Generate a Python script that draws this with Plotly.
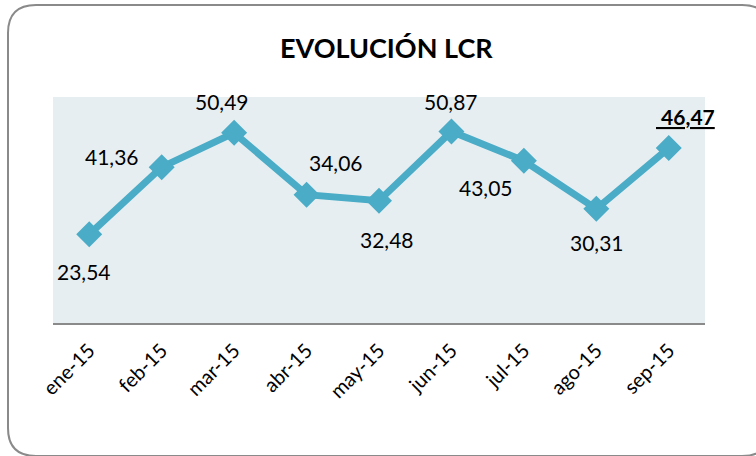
import plotly.graph_objects as go

months = ["ene-15", "feb-15", "mar-15", "abr-15", "may-15", "jun-15", "jul-15", "ago-15", "sep-15"]
lcr = [23.54, 41.36, 50.49, 34.06, 32.48, 50.87, 43.05, 30.31, 46.47]
labels = ["23,54", "41,36", "50,49", "34,06", "32,48", "50,87", "43,05", "30,31", "<b><u> 46,47</u></b>"]
# label offsets in pixels (dx, dy up-positive)
offsets = [(-5, -37), (-50, 11), (-12, 31), (29, 32), (8, -39), (0, 30), (-38, -27), (1, -34), (17, 31)]

W, H = 756, 456
L, R, T, B = 53, 705, 97, 323

def px(x):
    return (x - L) / (R - L)

def py(y):
    return (B - y) / (B - T)

fig = go.Figure()
fig.add_trace(go.Scatter(
    x=months, y=lcr, mode="lines+markers",
    line=dict(color="#4aacc6", width=7),
    marker=dict(symbol="diamond", size=20, color="#4aacc6"),
    hoverinfo="skip", showlegend=False,
))

annotations = []
for m, v, t, (dx, dy) in zip(months, lcr, labels, offsets):
    annotations.append(dict(
        x=m, y=v, xref="x", yref="y", text=t, showarrow=False,
        xshift=dx, yshift=dy,
        font=dict(family="Lato", size=21, color="#000000"),
    ))
annotations.append(dict(
    x=px(386), y=py(47), xref="paper", yref="paper",
    text="<b>EVOLUCIÓN LCR</b>", showarrow=False,
    font=dict(family="Lato", size=27, color="#000000"),
    xanchor="center", yanchor="middle",
))

# rounded border
l, t, r, b, rad = 8, 5, 770, 456, 28
path = (
    f"M {px(l)},{py(t + rad)} "
    f"Q {px(l)},{py(t)} {px(l + rad)},{py(t)} "
    f"L {px(r - rad)},{py(t)} "
    f"Q {px(r)},{py(t)} {px(r)},{py(t + rad)} "
    f"L {px(r)},{py(b - rad)} "
    f"Q {px(r)},{py(b)} {px(r - rad)},{py(b)} "
    f"L {px(l + rad)},{py(b)} "
    f"Q {px(l)},{py(b)} {px(l)},{py(b - rad)} Z"
)

fig.update_layout(
    width=W, height=H,
    margin=dict(l=L, r=W - R, t=T, b=H - B, autoexpand=False),
    paper_bgcolor="white",
    plot_bgcolor="#e7eef2",
    annotations=annotations,
    shapes=[dict(type="path", path=path, xref="paper", yref="paper",
                 line=dict(color="#8a8a8a", width=2), layer="below")],
    xaxis=dict(
        range=[-0.5, len(months) - 0.5],
        showgrid=False, showline=True, linecolor="#8a8a8a", linewidth=2,
        tickangle=-45, ticks="", ticklabelstandoff=6,
        tickfont=dict(family="Lato", size=20, color="#000000"),
        zeroline=False, automargin=False,
    ),
    yaxis=dict(range=[0, 60], visible=False, showgrid=False, zeroline=False),
)

fig.write_html("out.html", config={"displayModeBar": False},
               post_script="document.body.style.margin='0';document.body.style.overflow='hidden';")
